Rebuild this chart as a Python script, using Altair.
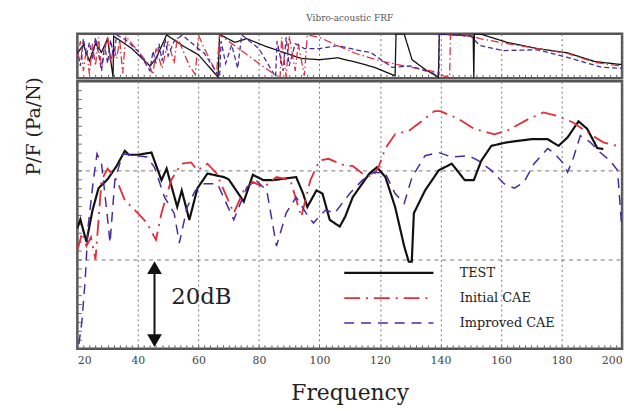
import altair as alt
import pandas as pd

SERIF = "DejaVu Serif"
names = ["TEST", "Initial CAE", "Improved CAE"]
colors = ["#111111", "#e0303a", "#4b2a9c"]
dashes = [[1, 0], [16, 6, 2, 6], [10, 7]]
widths = [2.2, 1.5, 2.0]

# ---- magnitude (dB, arbitrary 0..60 scale) ----
test_f = [20, 21, 23, 25, 27, 30, 33, 35.7, 37, 40, 44.5, 47.8, 49.5, 53, 54.5, 57, 59.7, 63, 68.4, 70, 75, 78,
          81.5, 84.5, 92.3, 94.6, 96, 99, 101, 103.4, 106.7, 108.5, 111, 116.5, 119, 121.8, 125, 128, 129.5,
          130.5, 131.2, 134.9, 139.4, 143.7, 146.3, 148, 151, 153.5, 156.8, 162, 170, 175.4, 179, 182, 185.6,
          188.5, 191.8, 193.8]
test_db = [27, 29, 24, 31, 36, 38, 41, 44.4, 43.5, 43.5, 44, 37.8, 40.4, 31.8, 35.5, 28.9, 36, 39.3, 38.5, 38, 33,
           39, 37.8, 37.8, 38.5, 34.8, 31.8, 35.5, 34.8, 28.9, 27.4, 29.6, 34, 39.3, 40.7, 38.5, 31.8, 23, 19.5,
           19.5, 30.4, 35.5, 40, 41.5, 39.3, 37.8, 37.8, 42.2, 45.5, 46.3, 47, 47, 45.5, 47.4, 51, 49.3, 45,
           44.8]

init_f = [20, 21.6, 23, 24.5, 26, 28, 30, 33, 35.7, 40, 43, 46, 47.8, 51, 54.4, 57.6, 59.7, 63, 66, 71.7, 75, 78,
          81.5, 85.8, 90.4, 94, 97, 100, 103, 108.7, 111, 114.2, 117.5, 119.5, 121.8, 125, 129.6, 133.9, 138,
          140, 146, 151.2, 157.8, 162, 169, 174, 178.7, 184, 189.5, 193.8, 198.4, 200]
init_db = [22, 26, 23, 25, 20, 37.8, 40.4, 37.8, 33.3, 30.4, 28.2, 24.4, 30.4, 37.8, 41.5, 41.8, 40, 41.5, 39.3,
           30.4, 35.5, 37.4, 36.2, 38.5, 37.8, 29.6, 37.8, 42.2, 42.6, 41, 41, 39.3, 38.5, 40.7, 45, 48.1, 48.9,
           51.1, 53.3, 53.3, 51.5, 49.3, 48.1, 48.9, 51.5, 53, 52.2, 50.7, 48.1, 46.3, 45.5, 45.5]

impr_f = [20.5, 21.5, 22.6, 23.5, 25.3, 26.5, 28, 29.8, 30.8, 32.4, 35, 37.5, 43, 45.5, 48.8, 52, 53.7, 56.3, 59,
          62, 66.3, 71.7, 76, 79, 82.6, 85.8, 89, 92.3, 95.6, 98, 102, 105, 110, 114.2, 118, 121.8, 125, 128,
          130.6, 134.9, 139.4, 143.7, 149.3, 152.5, 156.8, 161, 164.4, 167.6, 170.9, 175.4, 177.4, 180.3, 182,
          184, 186.2, 189.5, 192.8, 196, 198.5, 199.8]
impr_db = [1, 6, 15.5, 27, 37.8, 43.7, 41.5, 30.4, 23.7, 37.8, 43.7, 43.5, 43, 40.7, 34, 30.4, 23.7, 31.8, 35.5,
           37, 37, 28.9, 36.2, 37.8, 35.5, 23, 30.4, 34, 30.4, 28.2, 31.1, 30.4, 34.8, 37.8, 39.6, 39.3, 34.8,
           32.6, 38.5, 43.3, 44, 43, 43.3, 42.2, 40, 37, 36, 37.4, 41.5, 44.9, 44, 41.8, 39.6, 43, 47.8, 46.3,
           44, 42.2, 40, 28]

# ---- phase (deg) ----
test_pf = [20, 22, 24, 26, 28, 30, 31.8, 32, 38, 44, 46, 49.5, 55, 60, 66.5, 67, 72, 76, 82, 88, 94, 100, 106, 112,
           118, 125, 125.3, 128, 130.6, 135, 139.3, 139.6, 145, 150.8, 151, 151.2, 153.5, 162, 172, 182, 191, 200]
test_ph = [20, 90, -40, 100, 30, 140, -170, 160, 60, -80, -20, 170, 80, 10, -170, 175, 110, 140, 80, 30, -20, -30,
           -15, -50, -90, -160, 178, 178, -30, -110, -170, 178, 170, 160, -175, 178, 175, 110, 60, 25, -45, -70]

init_pf = [20, 21, 22, 23, 24, 25, 26, 27, 28, 29, 30, 31, 32, 33, 34, 35, 36, 38, 40, 42, 44, 45, 46, 48, 50, 52,
           53, 55, 57, 59, 60, 62, 64, 66, 67, 71, 75, 80, 84, 87, 87.5, 89, 90, 92, 93, 95, 96, 100, 106, 112,
           120, 130, 139, 141, 143, 143.3, 150, 153, 162, 172, 182, 191, 198, 200]
init_ph = [-40, 120, -120, 60, -150, 100, -80, 150, -100, 40, 160, -60, 80, -20, 130, -140, 160, 100, 40, -20, -90,
           -150, 60, -100, 120, -60, 150, 40, -80, -150, 170, 60, -40, -140, 170, 100, 30, -60, -130, -175, 150,
           -170, 160, -120, 100, -160, 170, 150, 84, 20, -40, -90, -132, -160, -170, 170, 165, 140, 100, 60, 20,
           -52, -76, -80]

impr_pf = [20, 21, 22, 23, 24, 25, 26, 27, 28, 29, 30, 31, 32, 33, 36, 40, 44, 45, 46, 47, 48, 49, 50, 52, 54.7, 58,
           62, 67, 67.5, 69, 71, 73, 74.3, 80, 85.5, 86, 88, 89, 90, 92, 95, 100, 106, 112, 117, 124, 130, 136.5,
           139.5, 139.6, 145, 150, 153, 160.7, 172, 182, 193.4, 200]
impr_ph = [60, -80, 140, 0, 110, -30, 150, 20, -120, 90, -60, 130, -20, 170, 130, 40, -120, 40, -60, 100, -40, 140,
           0, 120, 170, 100, 20, -170, 120, -60, 90, -100, 170, 60, -170, 120, -120, 150, -80, 100, 60, 60, 84, 50,
           28, -92, -80, -132, -150, 175, 170, 160, 84, 44, 50, -12, -92, -100]

x_ticks = [20, 40, 60, 80, 100, 120, 140, 160, 180, 200]
minor_x = list(range(20, 201, 2))
minor_y = list(range(0, 61, 2))

# ---- tables ----
mag = pd.concat([
    pd.DataFrame({"f": test_f, "v": test_db, "series": names[0], "o": range(len(test_f))}),
    pd.DataFrame({"f": init_f, "v": init_db, "series": names[1], "o": range(len(init_f))}),
    pd.DataFrame({"f": impr_f, "v": impr_db, "series": names[2], "o": range(len(impr_f))}),
])
ph = pd.concat([
    pd.DataFrame({"f": test_pf, "v": test_ph, "series": names[0], "o": range(len(test_pf))}),
    pd.DataFrame({"f": init_pf, "v": init_ph, "series": names[1], "o": range(len(init_pf))}),
    pd.DataFrame({"f": impr_pf, "v": impr_ph, "series": names[2], "o": range(len(impr_pf))}),
])

W = 550
grid_x = dict(grid=True, gridColor="#777", gridDash=[2, 3], gridWidth=1)
xscale = alt.Scale(domain=[20, 200], nice=False, zero=False)
yscale = alt.Scale(domain=[0, 60], nice=False)
pscale = alt.Scale(domain=[-180, 180], nice=False)
minor_ax = dict(labels=False, grid=False, domain=False, ticks=True, tickSize=4, tickColor="#666",
                tickWidth=1, offset=-4, title=None)
leg = dict(title=None, orient="none", legendX=304, legendY=183, padding=0,
           symbolType="M-5,0H5", symbolSize=324, symbolStrokeWidth=3.2,
           labelFont=SERIF, labelFontSize=13, labelColor="#222",
           labelOffset=61, rowPadding=8)
color = alt.Color("series:N", scale=alt.Scale(domain=names, range=colors), legend=alt.Legend(**leg))
dash = alt.StrokeDash("series:N", scale=alt.Scale(domain=names, range=dashes), legend=alt.Legend(**leg))
swidth = alt.StrokeWidth("series:N", scale=alt.Scale(domain=names, range=widths), legend=None)

# top phase panel
top_lines = alt.Chart(ph).mark_line(clip=True, strokeWidth=1.3).encode(
    x=alt.X("f:Q", scale=xscale, axis=alt.Axis(values=x_ticks, labels=False, ticks=False, title=None,
                                               domain=False, orient="bottom", **grid_x)),
    y=alt.Y("v:Q", scale=pscale,
            axis=alt.Axis(values=[-90, 0, 90], labels=False, ticks=False, title=None, domain=False,
                          orient="left", grid=True, gridColor="#777", gridDash=[4, 4])),
    color=alt.Color("series:N", scale=alt.Scale(domain=names, range=colors), legend=None),
    strokeDash=alt.StrokeDash("series:N", scale=alt.Scale(domain=names, range=[[1, 0], [8, 3, 1.5, 3], [5, 3]]),
                              legend=None),
    order="o:Q",
)
top_minor = alt.Chart(ph).mark_point(opacity=0).encode(
    x=alt.X("f:Q", scale=xscale, axis=alt.Axis(values=minor_x, orient="bottom", **minor_ax)),
    y=alt.Y("v:Q", scale=pscale, axis=None),
)
top = alt.layer(top_lines, top_minor).resolve_axis(x="independent").properties(
    width=W, height=45,
    title=alt.TitleParams("Vibro-acoustic FRF", font=SERIF, fontSize=9, fontWeight="normal",
                          color="#555", offset=8))

lines = alt.Chart(mag).mark_line(clip=True).encode(
    x=alt.X("f:Q", scale=xscale, axis=alt.Axis(values=x_ticks, labelFont=SERIF, labelFontSize=11,
                                               labelColor="#444", ticks=False, domain=False, orient="bottom",
                                               title="Frequency", titleFont=SERIF, titleFontSize=22,
                                               titleFontWeight="normal", titleColor="#222",
                                               titlePadding=17, labelPadding=6, **grid_x)),
    y=alt.Y("v:Q", scale=yscale,
            axis=alt.Axis(values=[20, 40], labels=False, ticks=False, domain=False, orient="left",
                          title="P/F (Pa/N)", titleFont=SERIF, titleFontSize=19,
                          titleFontWeight="normal", titleColor="#222", titleY=45, titleX=-34,
                          grid=True, gridColor="#777", gridDash=[4, 4])),
    color=color,
    strokeDash=dash,
    strokeWidth=swidth,
    order="o:Q",
)
main_minor = alt.Chart(mag).mark_point(opacity=0).encode(
    x=alt.X("f:Q", scale=xscale, axis=alt.Axis(values=minor_x, orient="bottom", **minor_ax)),
    y=alt.Y("v:Q", scale=yscale, axis=alt.Axis(values=minor_y, orient="left", **minor_ax)),
)

arrow_df = pd.DataFrame({"f": [45.5], "y0": [1], "y1": [19]})
arrow = alt.Chart(arrow_df).mark_rule(color="#111", strokeWidth=2).encode(
    x=alt.X("f:Q", axis=None), y=alt.Y("y0:Q", axis=None), y2="y1:Q")
heads_df = pd.DataFrame({"f": [45.5, 45.5], "y": [18.2, 1.8], "shape": ["triangle-up", "triangle-down"]})
heads = alt.Chart(heads_df).mark_point(filled=True, color="#111", size=220, opacity=1).encode(
    x=alt.X("f:Q", axis=None), y=alt.Y("y:Q", axis=None), shape=alt.Shape("shape:N", scale=None))
label_df = pd.DataFrame({"f": [61], "y": [11.5], "t": ["20dB"]})
label = alt.Chart(label_df).mark_text(font=SERIF, fontSize=23, color="#222").encode(
    x=alt.X("f:Q", axis=None), y=alt.Y("y:Q", axis=None), text="t:N")

main = alt.layer(lines, main_minor, arrow, heads, label).resolve_axis(
    x="independent", y="independent").properties(width=W, height=270)

chart = alt.vconcat(top, main, spacing=3, bounds="flush").resolve_scale(
    y="independent", color="independent", strokeDash="independent", strokeWidth="independent"
).resolve_legend(color="independent", strokeDash="independent").configure_view(
    stroke="#555", strokeWidth=2.5
).properties(
    padding={"left": 15, "top": 3, "right": 5, "bottom": 5}, background="white"
)

chart.save("out.html", embed_options={"renderer": "svg", "actions": False})
